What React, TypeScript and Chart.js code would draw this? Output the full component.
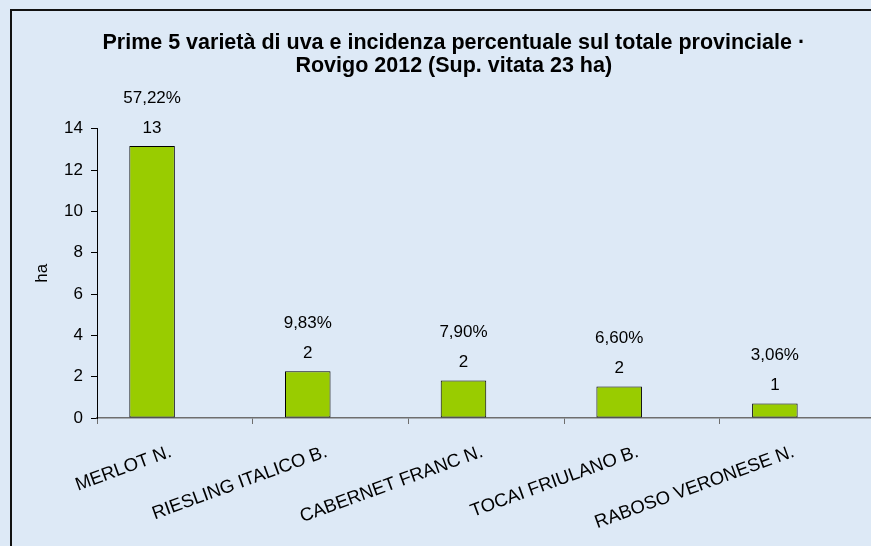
import React, { useEffect, useRef } from 'react';
import { Chart, registerables } from 'chart.js';

Chart.register(...registerables);

const categories = [
  'MERLOT N.',
  'RIESLING ITALICO B.',
  'CABERNET FRANC N.',
  'TOCAI FRIULANO B.',
  'RABOSO VERONESE N.',
];
const hectares = [13.16, 2.26, 1.82, 1.52, 0.7];
const percentShares = [57.22, 9.83, 7.9, 6.6, 3.06];
const spacerSeries = [null, null, null, null, null];
const yMin = 0;
const yMax = 14;
const yStep = 2;
const titleLines = [
  'Prime 5 varietà di uva e incidenza percentuale sul totale provinciale ·',
  'Rovigo 2012 (Sup. vitata 23 ha)',
];
const yAxisTitle = 'ha';

const FONT = '"Liberation Sans", Arial, sans-serif';
const BG = '#dde9f6';

const framePlugin = {
  id: 'frame',
  beforeDraw(chart: any) {
    const ctx = chart.ctx;
    ctx.save();
    ctx.strokeStyle = '#111111';
    ctx.lineWidth = 2;
    ctx.strokeRect(11, 10, 900, 620);
    ctx.restore();
  },
};

const labelPlugin = {
  id: 'barLabels',
  afterDatasetsDraw(chart: any) {
    const ctx = chart.ctx;
    const meta = chart.getDatasetMeta(0);
    ctx.save();
    ctx.fillStyle = '#000000';
    ctx.textAlign = 'center';
    ctx.textBaseline = 'middle';
    ctx.font = `17px ${FONT}`;
    meta.data.forEach((el: any, i: number) => {
      const v = hectares[i];
      ctx.fillText(String(Math.round(v)), el.x, el.y - 18);
      const pct = percentShares[i].toFixed(2).replace('.', ',') + '%';
      ctx.fillText(pct, el.x, el.y - 48);
    });
    ctx.restore();
  },
};

export default function App() {
  const ref = useRef<HTMLCanvasElement | null>(null);

  useEffect(() => {
    if (!ref.current) return;
    const chart = new Chart(ref.current, {
      type: 'bar',
      data: {
        labels: categories,
        datasets: [
          {
            label: 'ha',
            data: hectares,
            backgroundColor: '#99cc00',
            borderColor: '#000000',
            borderWidth: 1,
            borderSkipped: false,
            barPercentage: 1,
            categoryPercentage: 0.585,
          },
          {
            label: 'spacer',
            data: spacerSeries as any,
            backgroundColor: 'rgba(0,0,0,0)',
            borderWidth: 0,
            barPercentage: 1,
            categoryPercentage: 0.585,
          },
        ],
      },
      options: {
        responsive: false,
        animation: false,
        devicePixelRatio: 1,
        layout: { padding: { left: 32, right: 44.5, top: 0, bottom: 32 } },
        plugins: {
          legend: { display: false },
          tooltip: { enabled: false },
          title: {
            display: true,
            text: titleLines,
            color: '#000000',
            font: { family: FONT, size: 21.5, weight: 'bold', lineHeight: 1.1 },
            padding: { top: 31, bottom: 50.4 },
          },
        },
        scales: {
          x: {
            offset: true,
            grid: {
              offset: true,
              drawOnChartArea: false,
              drawTicks: true,
              tickLength: 6,
              color: '#6e6e6e',
            },
            border: { display: true, color: '#6e6e6e', width: 1.5 },
            ticks: {
              color: '#000000',
              font: { family: FONT, size: 18.5 },
              minRotation: 20,
              maxRotation: 20,
              autoSkip: false,
              padding: 17,
              labelOffset: -4,
            },
            afterFit(scale: any) {
              scale.height = 130;
            },
          },
          y: {
            min: yMin,
            max: yMax,
            ticks: {
              stepSize: yStep,
              color: '#000000',
              font: { family: FONT, size: 17 },
              padding: 8,
            },
            grid: {
              drawOnChartArea: false,
              drawTicks: true,
              tickLength: 6,
              color: '#000000',
            },
            border: { display: true, color: '#000000', width: 1 },
            title: {
              display: true,
              text: yAxisTitle,
              color: '#000000',
              font: { family: FONT, size: 17, lineHeight: 1.2 },
              padding: { top: 0, bottom: 0 },
            },
            afterFit(scale: any) {
              scale.width = 65;
            },
          },
        },
      },
      plugins: [framePlugin, labelPlugin],
    });
    return () => chart.destroy();
  }, []);

  return (
    <div
      style={{
        position: 'fixed',
        left: 0,
        top: 0,
        width: 871,
        height: 546,
        overflow: 'hidden',
        background: BG,
      }}
    >
      <canvas
        ref={ref}
        width={920}
        height={580}
        style={{ display: 'block', width: 920, height: 580 }}
      />
    </div>
  );
}
